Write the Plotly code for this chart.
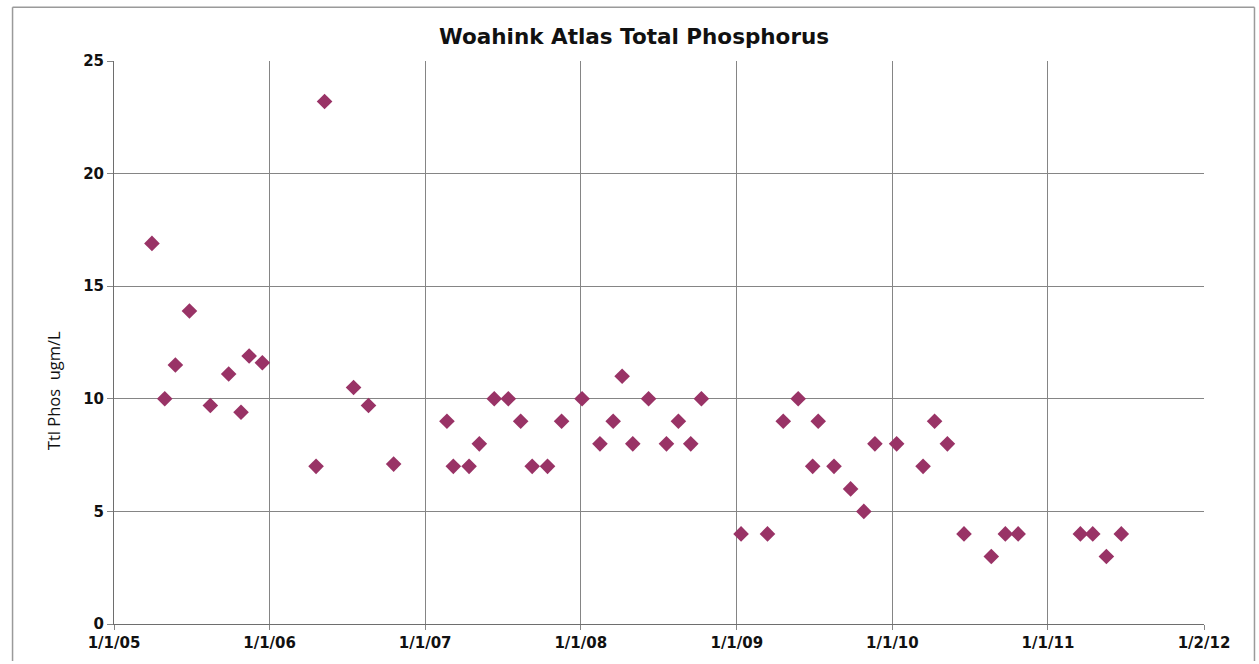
import plotly.graph_objects as go

# ---- data ----
sample_dates = [
    "2005-03-31", "2005-04-30", "2005-05-25", "2005-06-27", "2005-08-15",
    "2005-09-27", "2005-10-26", "2005-11-14", "2005-12-15",
    "2006-04-20", "2006-05-10", "2006-07-17", "2006-08-21", "2006-10-19",
    "2007-02-21", "2007-03-08", "2007-04-14", "2007-05-08", "2007-06-12",
    "2007-07-15", "2007-08-13", "2007-09-09", "2007-10-15", "2007-11-17",
    "2008-01-04", "2008-02-15", "2008-03-17", "2008-04-07", "2008-05-02",
    "2008-06-08", "2008-07-20", "2008-08-17", "2008-09-15", "2008-10-10",
    "2009-01-11", "2009-03-14", "2009-04-20", "2009-05-25", "2009-06-28",
    "2009-07-11", "2009-08-17", "2009-09-25", "2009-10-26", "2009-11-21",
    "2010-01-11", "2010-03-14", "2010-04-10", "2010-05-10", "2010-06-18",
    "2010-08-21", "2010-09-23", "2010-10-23",
    "2011-03-18", "2011-04-16", "2011-05-18", "2011-06-22",
]
total_phosphorus = [
    16.9, 10.0, 11.5, 13.9, 9.7,
    11.1, 9.4, 11.9, 11.6,
    7.0, 23.2, 10.5, 9.7, 7.1,
    9, 7, 7, 8, 10,
    10, 9, 7, 7, 9,
    10, 8, 9, 11, 8,
    10, 8, 9, 8, 10,
    4, 4, 9, 10, 7,
    9, 7, 6, 5, 8,
    8, 7, 9, 8, 4,
    3, 4, 4,
    4, 4, 3, 4,
]
x_tick_dates = ["2005-01-01", "2006-01-01", "2007-01-01", "2008-01-01",
                "2009-01-01", "2010-01-01", "2011-01-01", "2012-01-02"]
x_tick_labels = ["1/1/05", "1/1/06", "1/1/07", "1/1/08",
                 "1/1/09", "1/1/10", "1/1/11", "1/2/12"]
y_ticks = [0, 5, 10, 15, 20, 25]

title_text = "Woahink Atlas Total Phosphorus"
y_title_text = "Ttl Phos  ugm/L"

# ---- layout geometry (window pixels; body margin removed below) ----
W, H = 1259, 664
L, R, T, B = 113.5, 1204, 60.5, 626.7
pw, ph = R - L, B - T


def px(x):
    return (x - L) / pw


def py(y):
    return (B - y) / ph


grid_col = "#858585"
marker_col = "#993366"
tick_font = dict(family="DejaVu Sans", size=15, color="#111111")

fig = go.Figure()
fig.add_trace(go.Scatter(
    x=sample_dates, y=total_phosphorus, mode="markers",
    marker=dict(symbol="diamond", size=12, color=marker_col,
                line=dict(width=0)),
    showlegend=False, hoverinfo="x+y",
))

fig.update_layout(
    width=W, height=H,
    margin=dict(l=L, r=W - R, t=T, b=H - B, pad=0),
    paper_bgcolor="white", plot_bgcolor="white",
    showlegend=False,
    xaxis=dict(
        type="date", range=[x_tick_dates[0], x_tick_dates[-1]],
        tickmode="array", tickvals=x_tick_dates,
        ticktext=[f"<b>{t}</b>" for t in x_tick_labels],
        showgrid=True, gridcolor=grid_col, gridwidth=1,
        showline=True, linecolor="#6e6e6e", linewidth=1,
        ticks="outside", ticklen=5, tickcolor=grid_col,
        tickfont=tick_font, zeroline=False,
    ),
    yaxis=dict(
        range=[0, 25], tickmode="array", tickvals=y_ticks,
        ticktext=[f"<b>{t}</b>" for t in y_ticks],
        showgrid=True, gridcolor=grid_col, gridwidth=1,
        showline=True, linecolor="#6e6e6e", linewidth=1,
        ticks="outside", ticklen=6, tickcolor=grid_col,
        tickfont=tick_font, zeroline=False,
    ),
    font=dict(family="DejaVu Sans"),
)

# title
fig.add_annotation(
    x=px(634), y=py(36), xref="paper", yref="paper",
    text=f"<b>{title_text}</b>", showarrow=False,
    font=dict(family="DejaVu Sans", size=21.5, color="#111111"),
    xanchor="center", yanchor="middle",
)
# y-axis title
fig.add_annotation(
    x=px(53), y=py(392), xref="paper", yref="paper",
    text=y_title_text, showarrow=False, textangle=-90,
    font=dict(family="Open Sans", size=16.5, color="#111111"),
    xanchor="center", yanchor="middle",
)
# chart border: top, left and right edges (bottom runs off the page)
border = dict(color="#9a9a9a", width=1.5)
x_left, x_right, y_top, y_bot = px(12), px(1254.5), py(6.5), py(664)
for (xa, ya, xb, yb) in [(x_left, y_top, x_right, y_top),
                         (x_left, y_top, x_left, y_bot),
                         (x_right, y_top, x_right, y_bot)]:
    fig.add_shape(type="line", xref="paper", yref="paper",
                  x0=xa, y0=ya, x1=xb, y1=yb, line=border, layer="below")

fig.write_html(
    "out.html",
    config={"displayModeBar": False},
    post_script=("document.body.style.margin='0';"
                 "document.documentElement.style.overflow='hidden';"
                 "document.body.style.overflow='hidden';"),
)
